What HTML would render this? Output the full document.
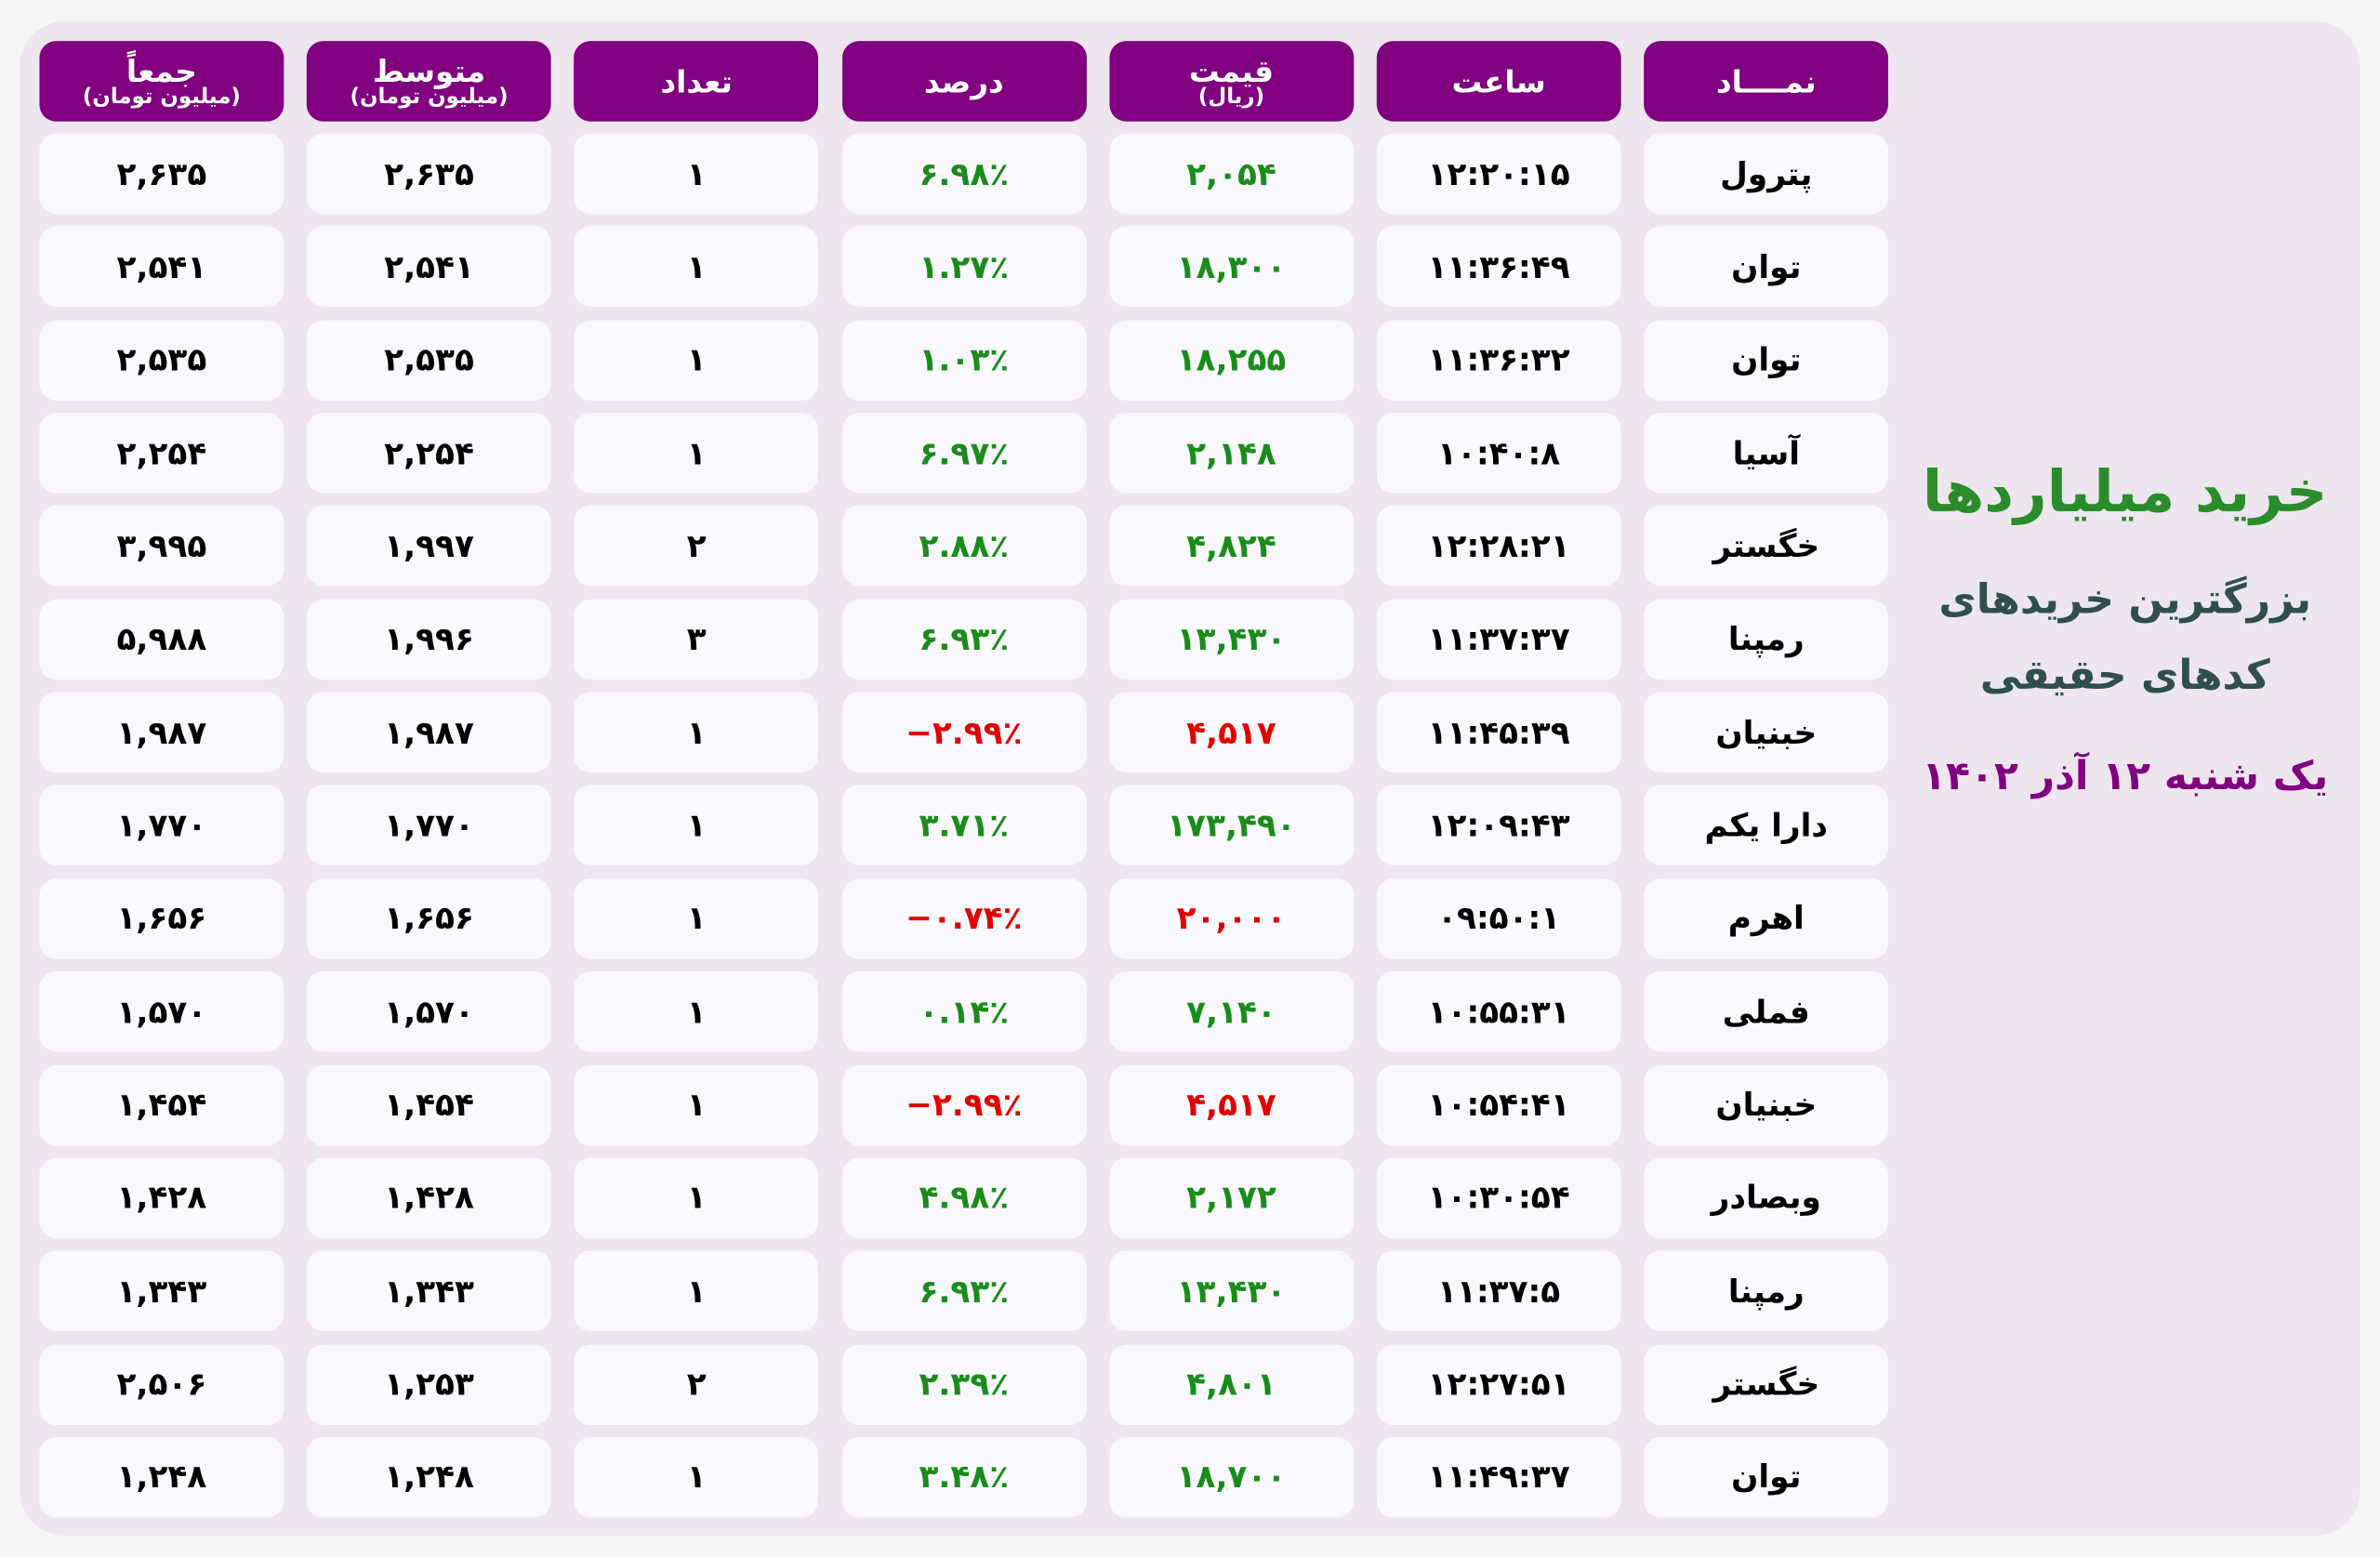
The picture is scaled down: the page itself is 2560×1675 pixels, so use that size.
<!DOCTYPE html>
<html><head><meta charset="utf-8"><style>
html,body{margin:0;padding:0;background:#f5f5f5;}
body{width:2560px;height:1675px;overflow:hidden;}
#w{position:absolute;left:0;top:0;width:1568px;height:1026px;transform:scale(1.63265);transform-origin:0 0;font-family:"DejaVu Sans","Liberation Sans",sans-serif;font-weight:bold;}
#p{position:absolute;left:13px;top:14px;width:1542px;height:998px;background:#ede6ee;border-radius:30px;}
.r{position:absolute;left:26px;height:53px;display:flex;direction:ltr;}
.c{width:161px;height:53px;margin-right:15.2px;border-radius:11px;background:#f8f8fd;display:flex;align-items:center;justify-content:center;font-size:21px;color:#000;direction:ltr;}
.h .c{background:#800080;color:#fff;font-size:20px;flex-direction:column;line-height:1;}
.h .c small{font-size:14px;}
.g{color:#1a8c1a}.d{color:#e00000}
.t{position:absolute;left:1245px;width:310px;text-align:center;direction:rtl;}
</style></head><body><div id="w"><div id="p"></div>
<div class="r h" style="top:27px">
<div class="c">جمعاً<small>(میلیون تومان)</small></div><div class="c">متوسط<small>(میلیون تومان)</small></div><div class="c">تعداد</div><div class="c">درصد</div><div class="c">قیمت<small>(ریال)</small></div><div class="c">ساعت</div><div class="c">نمــــاد</div></div>
<div class="r" style="top:88px"><div class="c">۲,۶۳۵</div><div class="c">۲,۶۳۵</div><div class="c">۱</div><div class="c g">۶.۹۸٪</div><div class="c g">۲,۰۵۴</div><div class="c">۱۲:۲۰:۱۵</div><div class="c">پترول</div></div>
<div class="r" style="top:149.3px"><div class="c">۲,۵۴۱</div><div class="c">۲,۵۴۱</div><div class="c">۱</div><div class="c g">۱.۲۷٪</div><div class="c g">۱۸,۳۰۰</div><div class="c">۱۱:۳۶:۴۹</div><div class="c">توان</div></div>
<div class="r" style="top:210.7px"><div class="c">۲,۵۳۵</div><div class="c">۲,۵۳۵</div><div class="c">۱</div><div class="c g">۱.۰۳٪</div><div class="c g">۱۸,۲۵۵</div><div class="c">۱۱:۳۶:۳۲</div><div class="c">توان</div></div>
<div class="r" style="top:272px"><div class="c">۲,۲۵۴</div><div class="c">۲,۲۵۴</div><div class="c">۱</div><div class="c g">۶.۹۷٪</div><div class="c g">۲,۱۴۸</div><div class="c">۱۰:۴۰:۸</div><div class="c">آسیا</div></div>
<div class="r" style="top:333.4px"><div class="c">۳,۹۹۵</div><div class="c">۱,۹۹۷</div><div class="c">۲</div><div class="c g">۲.۸۸٪</div><div class="c g">۴,۸۲۴</div><div class="c">۱۲:۲۸:۲۱</div><div class="c">خگستر</div></div>
<div class="r" style="top:394.7px"><div class="c">۵,۹۸۸</div><div class="c">۱,۹۹۶</div><div class="c">۳</div><div class="c g">۶.۹۳٪</div><div class="c g">۱۳,۴۳۰</div><div class="c">۱۱:۳۷:۳۷</div><div class="c">رمپنا</div></div>
<div class="r" style="top:456px"><div class="c">۱,۹۸۷</div><div class="c">۱,۹۸۷</div><div class="c">۱</div><div class="c d">−۲.۹۹٪</div><div class="c d">۴,۵۱۷</div><div class="c">۱۱:۴۵:۳۹</div><div class="c">خبنیان</div></div>
<div class="r" style="top:517.4px"><div class="c">۱,۷۷۰</div><div class="c">۱,۷۷۰</div><div class="c">۱</div><div class="c g">۳.۷۱٪</div><div class="c g">۱۷۳,۴۹۰</div><div class="c">۱۲:۰۹:۴۳</div><div class="c">دارا یکم</div></div>
<div class="r" style="top:578.8px"><div class="c">۱,۶۵۶</div><div class="c">۱,۶۵۶</div><div class="c">۱</div><div class="c d">−۰.۷۴٪</div><div class="c d">۲۰,۰۰۰</div><div class="c">۰۹:۵۰:۱</div><div class="c">اهرم</div></div>
<div class="r" style="top:640.1px"><div class="c">۱,۵۷۰</div><div class="c">۱,۵۷۰</div><div class="c">۱</div><div class="c g">۰.۱۴٪</div><div class="c g">۷,۱۴۰</div><div class="c">۱۰:۵۵:۳۱</div><div class="c">فملی</div></div>
<div class="r" style="top:701.5px"><div class="c">۱,۴۵۴</div><div class="c">۱,۴۵۴</div><div class="c">۱</div><div class="c d">−۲.۹۹٪</div><div class="c d">۴,۵۱۷</div><div class="c">۱۰:۵۴:۴۱</div><div class="c">خبنیان</div></div>
<div class="r" style="top:762.8px"><div class="c">۱,۴۲۸</div><div class="c">۱,۴۲۸</div><div class="c">۱</div><div class="c g">۴.۹۸٪</div><div class="c g">۲,۱۷۲</div><div class="c">۱۰:۳۰:۵۴</div><div class="c">وبصادر</div></div>
<div class="r" style="top:824.2px"><div class="c">۱,۳۴۳</div><div class="c">۱,۳۴۳</div><div class="c">۱</div><div class="c g">۶.۹۳٪</div><div class="c g">۱۳,۴۳۰</div><div class="c">۱۱:۳۷:۵</div><div class="c">رمپنا</div></div>
<div class="r" style="top:885.5px"><div class="c">۲,۵۰۶</div><div class="c">۱,۲۵۳</div><div class="c">۲</div><div class="c g">۲.۳۹٪</div><div class="c g">۴,۸۰۱</div><div class="c">۱۲:۲۷:۵۱</div><div class="c">خگستر</div></div>
<div class="r" style="top:946.9px"><div class="c">۱,۲۴۸</div><div class="c">۱,۲۴۸</div><div class="c">۱</div><div class="c g">۳.۴۸٪</div><div class="c g">۱۸,۷۰۰</div><div class="c">۱۱:۴۹:۳۷</div><div class="c">توان</div></div>
<div class="t" style="top:302px;font-size:38px;color:#2a8c2a">خرید میلیاردها</div>
<div class="t" style="top:380px;font-size:27px;color:#2f4f4f">بزرگترین خریدهای</div>
<div class="t" style="top:430px;font-size:27px;color:#2f4f4f">کدهای حقیقی</div>
<div class="t" style="top:497px;font-size:26px;color:#800080">یک شنبه ۱۲ آذر ۱۴۰۲</div>
</div></body></html>
